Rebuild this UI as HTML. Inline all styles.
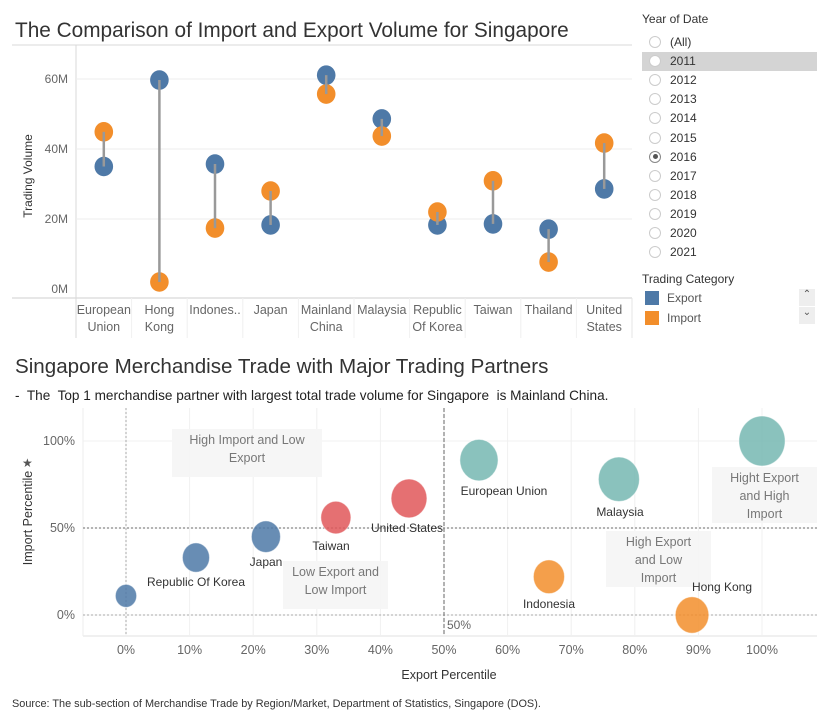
<!DOCTYPE html>
<html><head><meta charset="utf-8"><style>
body{margin:0;width:827px;height:722px;background:#fff;font-family:"Liberation Sans",sans-serif;overflow:hidden;position:relative}
.t{position:absolute;white-space:nowrap}
</style></head><body>
<div class="t" style="left:15px;top:19px;font-size:20.8px;color:#333">The Comparison of Import and Export Volume for Singapore</div>
<div class="t" style="left:15px;top:355px;font-size:20.6px;color:#333">Singapore Merchandise Trade with Major Trading Partners</div>
<div class="t" style="left:15px;top:388px;font-size:13.6px;color:#222">-&nbsp; The&nbsp; Top 1 merchandise partner with largest total trade volume for Singapore&nbsp; is Mainland China.</div>
<div class="t" style="left:12px;top:698px;font-size:10.9px;color:#333">Source: The sub-section of Merchandise Trade by Region/Market, Department of Statistics, Singapore (DOS).</div>

<div style="position:absolute;left:636px;top:0;width:191px;height:340px">
<div class="t" style="left:6px;top:12px;font-size:12px;color:#333">Year of Date</div>
<div id="years"></div>
<div class="t" style="left:6px;top:272px;font-size:12px;color:#333">Trading Category</div>
<div class="t" style="left:9px;top:291px;font-size:12px;color:#555"><span style="display:inline-block;width:14px;height:14px;background:#4e79a7;vertical-align:-3px;margin-right:8px"></span>Export</div>
<div class="t" style="left:9px;top:311px;font-size:12px;color:#555"><span style="display:inline-block;width:14px;height:14px;background:#f28e2b;vertical-align:-3px;margin-right:8px"></span>Import</div>
<div class="t" style="left:163px;top:289px;width:16px;height:17px;background:#eee;font-size:10px;text-align:center;color:#555">&#8963;</div>
<div class="t" style="left:163px;top:307px;width:16px;height:17px;background:#eee;font-size:10px;text-align:center;color:#555">&#8964;</div>
</div>

<svg id="top" style="position:absolute;left:0;top:0" width="636" height="340"></svg>
<svg id="bot" style="position:absolute;left:0;top:400" width="827" height="295"></svg>

<script>
const categories=["European Union","Hong Kong","Indonesia","Japan","Mainland China","Malaysia","Republic Of Korea","Taiwan","Thailand","United States"];
const catLabels=[["European","Union"],["Hong","Kong"],["Indones..",""],["Japan",""],["Mainland","China"],["Malaysia",""],["Republic","Of Korea"],["Taiwan",""],["Thailand",""],["United","States"]];
const exportVals=[35,59.7,35.7,18.3,61.1,48.6,18.3,18.6,17.1,28.6];
const importVals=[44.9,2,17.4,28,55.7,43.7,22,30.9,7.7,41.7];
const yTicks=[0,20,40,60];
const years=["(All)","2011","2012","2013","2014","2015","2016","2017","2018","2019","2020","2021"];

const bubbleNames=["Thailand","Republic Of Korea","Japan","Taiwan","United States","European Union","Malaysia","Mainland China","Indonesia","Hong Kong"];
const exportPct=[0,11,22,33,44.5,55.5,77.5,100,66.5,89];
const importPct=[11,33,45,56,67,89,78,100,22,0];
const totalVol=[24.8,40.3,46.3,49.5,70.3,79.9,92.3,116.8,53.1,61.7];
const groups=["b","b","b","r","r","t","t","t","o","o"];
const xTicks=[0,10,20,30,40,50,60,70,80,90,100];
const yTicksB=[0,50,100];

const NS="http://www.w3.org/2000/svg";
function mk(p,tag,a,txt){const e=document.createElementNS(NS,tag);for(const k in a)e.setAttribute(k,a[k]);if(txt!==undefined)e.textContent=txt;p.appendChild(e);return e;}

const yc=document.getElementById('years');
years.forEach((y,i)=>{
  const d=document.createElement('div');
  d.className='t';
  
  
  const top=33+i*19.1;
  d.style.cssText=`left:6px;top:${top}px;width:175px;height:19px;font-size:12px;color:#333;line-height:19px;${y==="2011"?'background:#d4d4d4;':''}`;
  const sel=y==="2016";
  d.innerHTML=`<span style="display:inline-block;box-sizing:border-box;width:12px;height:12px;border-radius:50%;border:1px solid #ccc;background:#fff;vertical-align:-2px;margin:0 9px 0 7px;position:relative">${sel?'<span style="position:absolute;left:2.5px;top:2.5px;width:5px;height:5px;border-radius:50%;background:#555"></span>':''}</span>${y}`;
  if(sel) d.firstChild.style.borderColor='#888';
  yc.appendChild(d);
});

const T=document.getElementById('top');
const x0=76,cw=55.6,yv=v=>289-v*3.5;
mk(T,'line',{x1:12,y1:45,x2:632,y2:45,stroke:'#d8d8d8'});
mk(T,'line',{x1:12,y1:298,x2:632,y2:298,stroke:'#cfcfcf'});
mk(T,'line',{x1:76,y1:45,x2:76,y2:338,stroke:'#d8d8d8'});
mk(T,'line',{x1:632,y1:298,x2:632,y2:338,stroke:'#e5e5e5'});
yTicks.forEach(t=>{
  if(t>0){const g=mk(T,'line',{x1:76,y1:yv(t),x2:632,y2:yv(t),stroke:'#eeeeee'});}
  const l=mk(T,'text',{x:68,y:yv(t)+4,'text-anchor':'end','font-size':12,fill:'#666'},t+'M');
  
});
const yt=mk(T,'text',{x:32,y:176,'text-anchor':'middle','font-size':12,fill:'#333',transform:'rotate(-90 32 176)'},'Trading Volume');

categories.forEach((c,i)=>{
  const cx=x0+cw*(i+0.5);
  if(i>0){mk(T,'line',{x1:x0+cw*i,y1:298,x2:x0+cw*i,y2:338,stroke:'#f0f0f0'});}
  catLabels[i].forEach((s,j)=>{const l=mk(T,'text',{x:cx,y:314+j*17,'text-anchor':'middle','font-size':12.5,fill:'#666'},s);
    });
  const e=mk(T,'ellipse',{cx:cx,cy:yv(exportVals[i]),rx:9.3,ry:9.8,fill:'#4e79a7'});
  
  const m=mk(T,'ellipse',{cx:cx,cy:yv(importVals[i]),rx:9.3,ry:9.8,fill:'#f28e2b'});
  
  const ln=mk(T,'line',{x1:cx,y1:yv(exportVals[i]),x2:cx,y2:yv(importVals[i]),stroke:'#999','stroke-width':2.5});
  
});

const B=document.getElementById('bot');
const bx=p=>126+p*6.36, by=p=>215-p*1.74;
mk(B,'line',{x1:83,y1:236,x2:817,y2:236,stroke:'#e0e0e0'});
mk(B,'line',{x1:83,y1:8,x2:83,y2:236,stroke:'#eee'});
xTicks.forEach(t=>{mk(B,'line',{x1:bx(t),y1:8,x2:bx(t),y2:236,stroke:'#f0f0f0'});
  const l=mk(B,'text',{x:bx(t),y:254,'text-anchor':'middle','font-size':12.5,fill:'#666'},t+'%');
  });
yTicksB.forEach(t=>{mk(B,'line',{x1:83,y1:by(t),x2:817,y2:by(t),stroke:'#f0f0f0'});
  const l=mk(B,'text',{x:75,y:by(t)+4,'text-anchor':'end','font-size':12.5,fill:'#666'},t+'%');
  });
mk(B,'line',{x1:83,y1:by(50),x2:817,y2:by(50),stroke:'#888','stroke-dasharray':'2,2','stroke-width':1.3});
mk(B,'line',{x1:83,y1:by(0),x2:817,y2:by(0),stroke:'#aaa','stroke-dasharray':'2,2'});
mk(B,'line',{x1:bx(0),y1:8,x2:bx(0),y2:236,stroke:'#aaa','stroke-dasharray':'2,2'});
mk(B,'line',{x1:bx(50),y1:8,x2:bx(50),y2:236,stroke:'#888','stroke-dasharray':'4,2','stroke-width':1.3});
mk(B,'text',{x:bx(50)+3,y:229,'font-size':12,fill:'#666'},'50%');
const boxes=[[172,29,150,48,["High Import and Low","Export"]],[283,161,105,48,["Low Export and","Low Import"]],[606,131,105,56,["High Export","and Low","Import"]],[712,67,105,56,["Hight Export","and High","Import"]]];
const colors={b:'#4e79a7',r:'#e15759',t:'#76b7b2',o:'#f28e2b'};
bubbleNames.forEach((n,i)=>{
  const r=2.25*Math.sqrt(totalVol[i]);
  const c=mk(B,'ellipse',{cx:bx(exportPct[i]),cy:by(importPct[i]),rx:r*0.95,ry:r*1.03,fill:colors[groups[i]],'fill-opacity':0.85,stroke:'#fff','stroke-opacity':0.5});
  
  
});
boxes.forEach((b,k)=>{
  const g=mk(B,'g',{});
  
  
  mk(g,'rect',{x:b[0],y:b[1],width:b[2],height:b[3],fill:'#f5f5f5','fill-opacity':0.92});
  b[4].forEach((s,j)=>mk(g,'text',{x:b[0]+b[2]/2,y:b[1]+15+j*18,'text-anchor':'middle','font-size':12.5,fill:'#777'},s));
});
const labs=[["Republic Of Korea",196,186],["Japan",266,166],["Taiwan",331,150],["United States",407,132],["European Union",504,95],["Malaysia",620,116],["Indonesia",549,208],["Hong Kong",722,191]];
labs.forEach(l=>{const t=mk(B,'text',{x:l[1],y:l[2],'text-anchor':'middle','font-size':12,fill:'#333'},l[0]);
  });
const xt=mk(B,'text',{x:449,y:279,'text-anchor':'middle','font-size':12.5,fill:'#333'},'Export Percentile');

const yt2=mk(B,'text',{x:32,y:118,'text-anchor':'middle','font-size':12.5,fill:'#333',transform:'rotate(-90 32 118)'},'Import Percentile');

mk(B,'text',{x:22,y:67,'font-size':12,fill:'#555'},'\u2605');
</script>
</body></html>
